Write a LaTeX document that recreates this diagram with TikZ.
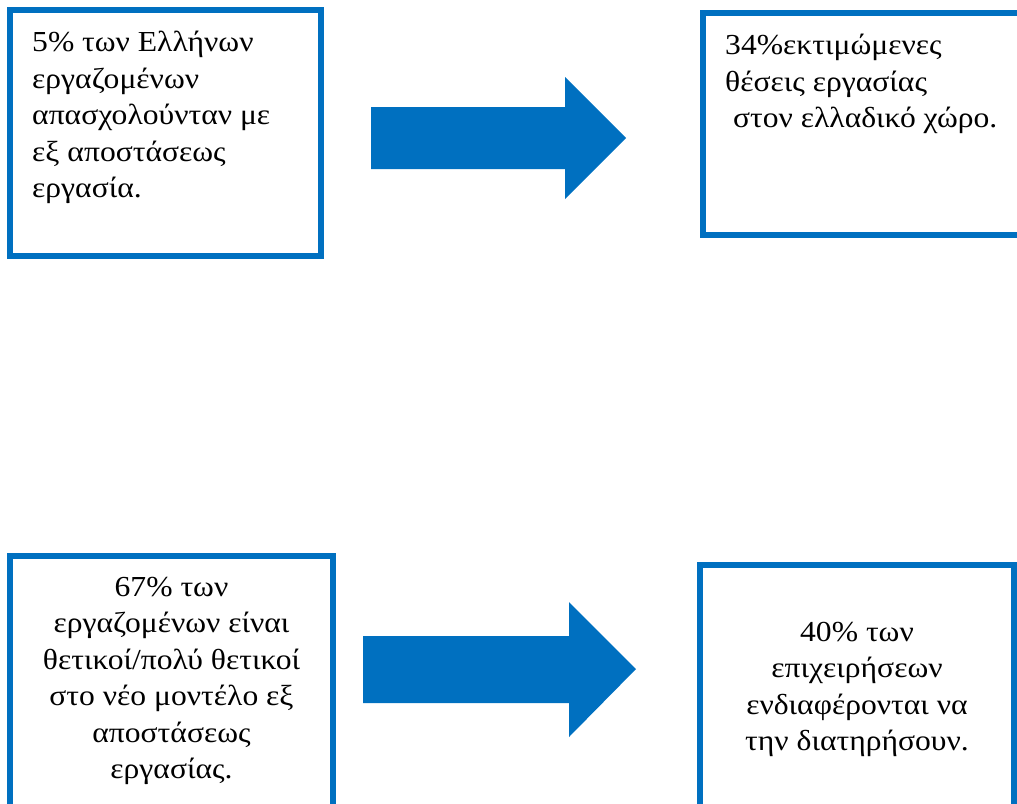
\documentclass[tikz,border=0pt]{standalone}
\usepackage{fontspec}
\setmainfont{Liberation Serif}[FakeStretch=1.09]
\definecolor{boxblue}{HTML}{0070C0}
\tikzset{
  infobox/.style={draw=boxblue, line width=6pt, rectangle, inner sep=0pt},
  infotext/.style={inner sep=0pt, font=\fontsize{29}{36.5}\selectfont},
  blockarrow/.style={fill=boxblue, draw=none}
}
\begin{document}
\begin{tikzpicture}[x=1pt,y=-1pt]
\useasboundingbox (0,0) rectangle (1017,803);
\clip (0,0) rectangle (1017,803);
% boxes
\node[infobox, minimum width=311pt, minimum height=246pt] (b1) at (165.5,133) {};
\node[infobox, minimum width=320pt, minimum height=222pt] (b2) at (863,124) {};
\node[infobox, minimum width=323pt, minimum height=260pt] (b3) at (171.5,686) {};
\node[infobox, minimum width=314pt, minimum height=250pt] (b4) at (857,690) {};
% texts
\node[infotext, anchor=north west, align=left] (t1) at (32,31)
  {5\% των Ελλήνων\\εργαζομένων\\απασχολούνταν με\\εξ αποστάσεως\\εργασία.};
\node[infotext, anchor=north west, align=left] (t2) at (725,34)
  {34\%εκτιμώμενες\\θέσεις εργασίας\\\ στον ελλαδικό χώρο.};
\node[infotext, anchor=north, align=center] (t3) at (171.5,577)
  {67\% των\\εργαζομένων είναι\\θετικοί/πολύ θετικοί\\στο νέο μοντέλο εξ\\αποστάσεως\\εργασίας.};
\node[infotext, anchor=north, align=center] (t4) at (857,622)
  {40\% των\\επιχειρήσεων\\ενδιαφέρονται να\\την διατηρήσουν.};
% block arrows
\path[blockarrow] (371,107) -- (565,107) -- (565,77) -- (626,138) -- (565,199) -- (565,169) -- (371,169) -- cycle;
\path[blockarrow] (363,636) -- (569,636) -- (569,602) -- (636,669) -- (569,737) -- (569,703) -- (363,703) -- cycle;
\end{tikzpicture}
\end{document}
